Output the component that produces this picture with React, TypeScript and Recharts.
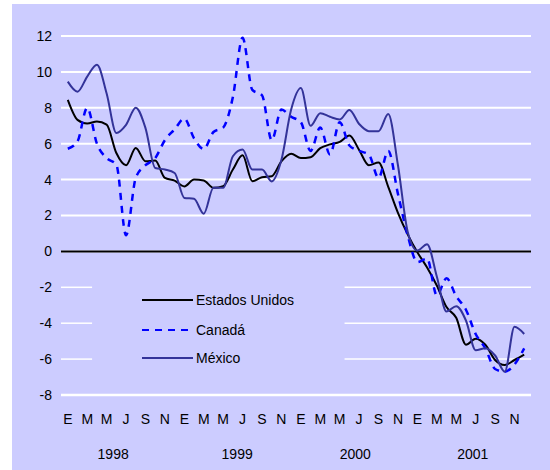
import React from "react";
import { LineChart, Line, XAxis, YAxis, CartesianGrid, ReferenceLine, Legend } from "recharts";

const monthLetters = ["E", "M", "M", "J", "S", "N"];
const yearLabels = ["1998", "1999", "2000", "2001"];
const seriesNames = ["Estados Unidos", "Canadá", "México"];

const estadosUnidos = [
  8.44, 7.33, 7.13, 7.24, 7.06, 5.48, 4.8, 5.76, 5.02, 5.06, 4.09, 3.94,
  3.62, 4.0, 3.95, 3.54, 3.63, 4.56, 5.35, 3.91, 4.13, 4.19, 5.02, 5.44,
  5.2, 5.25, 5.75, 5.96, 6.1, 6.46, 5.65, 4.8, 4.95, 3.6, 2.15, 0.95,
  -0.05, -0.9, -1.9, -3.1, -3.7, -5.2, -4.86, -5.2, -6.05, -6.33, -6.05, -5.75,
];
const canada = [
  5.72, 6.13, 8.0, 6.0, 5.2, 4.83, 0.9, 4.1, 4.8, 5.2, 6.2, 6.8,
  7.4, 6.3, 5.7, 6.65, 6.9, 8.6, 11.9, 9.0, 8.7, 6.2, 7.9, 7.5,
  7.2, 5.6, 6.9, 5.4, 7.2, 5.9, 5.6, 5.4, 4.1, 5.6, 3.2, 0.9,
  -0.6, -0.4, -2.45, -1.5, -2.5, -3.25, -4.6, -5.4, -6.55, -6.7, -6.3, -5.4,
];
const mexico = [
  9.46, 8.9, 9.74, 10.4, 8.8, 6.6, 7.05, 8.0, 6.87, 4.65, 4.56, 4.37,
  2.98, 2.93, 2.1, 3.54, 3.54, 5.3, 5.67, 4.56, 4.56, 3.9, 5.1, 7.9,
  9.1, 7.0, 7.7, 7.5, 7.35, 7.88, 7.1, 6.7, 6.7, 7.65, 4.8, 1.1,
  0.05, 0.4, -1.4, -3.35, -3.05, -3.85, -5.5, -5.4, -5.8, -6.7, -4.2, -4.6,
];

const data = estadosUnidos.map((v, i) => ({
  t: i,
  eu: v,
  ca: canada[i],
  mx: mexico[i],
}));

const X_DOMAIN: [number, number] = [-0.7, 47.7];
const monthTicks = estadosUnidos.map((_, i) => i).filter((i) => i % 2 === 0);
const yearTicks = [4.67, 17.44, 29.6, 41.7];
const yTicks = [-8, -6, -4, -2, 0, 2, 4, 6, 8, 10, 12];
const fullGridValues = [-8, 0, 2, 4, 6, 8, 10, 12];
const splitGridValues = [-2, -4, -6];
const legendSpan = [2.5, 28.5];

const FONT = "Arial, 'Liberation Sans', Helvetica, sans-serif";
const BG = "#CCCCFF";

function LegendBox(props: any) {
  const raw = (props && props.payload) || [];
  const payload = seriesNames
    .map((n) => raw.find((e: any) => e.value === n))
    .filter(Boolean);
  const tops = [22, 52, 80];
  return (
    <div
      style={{
        width: 252,
        height: 114,
        position: "relative",
        fontFamily: FONT,
        fontSize: 14,
        color: "#000",
      }}
    >
      {payload.map((entry: any, i: number) => (
        <div
          key={entry.value}
          style={{
            position: "absolute",
            left: 0,
            top: tops[i],
            height: 20,
            display: "flex",
            alignItems: "center",
            whiteSpace: "nowrap",
          }}
        >
          <svg width={104} height={20} style={{ display: "block" }}>
            <line
              x1={50}
              x2={101}
              y1={10}
              y2={10}
              stroke={entry.color}
              strokeWidth={2}
              strokeDasharray={entry.payload && entry.payload.strokeDasharray}
            />
          </svg>
          <span>{entry.value}</span>
        </div>
      ))}
    </div>
  );
}

export default function App() {
  return (
    <div
      style={{
        position: "absolute",
        left: 12,
        top: 4,
        width: 538,
        height: 466,
        background: BG,
      }}
    >
      <LineChart
        width={538}
        height={466}
        data={data}
        margin={{ top: 32, right: 19, left: 0, bottom: 10 }}
      >
        <CartesianGrid
          vertical={false}
          horizontalValues={fullGridValues}
          stroke="#FFFFFF"
          strokeWidth={2}
        />
        <XAxis
          dataKey="t"
          type="number"
          domain={X_DOMAIN}
          ticks={monthTicks}
          interval={0}
          tickFormatter={(v: number) => monthLetters[(v % 12) / 2]}
          axisLine={{ stroke: "#FFFFFF", strokeWidth: 2.5 }}
          tickLine={false}
          tickSize={0}
          tickMargin={19}
          height={30}
          tick={{ fill: "#000", fontSize: 14, fontFamily: FONT }}
          allowDataOverflow
        />
        <XAxis
          xAxisId="year"
          dataKey="t"
          type="number"
          domain={X_DOMAIN}
          ticks={yearTicks}
          interval={0}
          tickFormatter={(_v: number, i: number) => yearLabels[i]}
          axisLine={false}
          tickLine={false}
          tickSize={0}
          tickMargin={24}
          height={35}
          tick={{ fill: "#000", fontSize: 14, fontFamily: FONT }}
          allowDataOverflow
        />
        <YAxis
          type="number"
          domain={[-8, 12]}
          ticks={yTicks}
          interval={0}
          width={49}
          axisLine={false}
          tickLine={false}
          tickSize={0}
          tickMargin={9}
          tick={{ fill: "#000", fontSize: 14, fontFamily: FONT }}
        />
        {splitGridValues.map((v) => (
          <ReferenceLine
            key={`l${v}`}
            segment={[
              { x: X_DOMAIN[0], y: v },
              { x: legendSpan[0], y: v },
            ]}
            stroke="#FFFFFF"
            strokeWidth={1.5}
          />
        ))}
        {splitGridValues.map((v) => (
          <ReferenceLine
            key={`r${v}`}
            segment={[
              { x: legendSpan[1], y: v },
              { x: X_DOMAIN[1], y: v },
            ]}
            stroke="#FFFFFF"
            strokeWidth={1.5}
          />
        ))}
        <ReferenceLine y={0} stroke="#000000" strokeWidth={2} />
        <Legend
          layout="horizontal"
          verticalAlign="middle"
          align="center"
          content={<LegendBox />}
          wrapperStyle={{ left: 80, top: 264, width: 252, height: 114, zIndex: 5 }}
        />
        <Line
          name={seriesNames[0]}
          dataKey="eu"
          type="monotone"
          stroke="#000000"
          strokeWidth={2}
          dot={false}
          isAnimationActive={false}
        />
        <Line
          name={seriesNames[1]}
          dataKey="ca"
          type="monotone"
          stroke="#0000FF"
          strokeWidth={2.5}
          strokeDasharray="7 6"
          dot={false}
          isAnimationActive={false}
        />
        <Line
          name={seriesNames[2]}
          dataKey="mx"
          type="monotone"
          stroke="#333399"
          strokeWidth={2}
          dot={false}
          isAnimationActive={false}
        />
      </LineChart>
    </div>
  );
}
